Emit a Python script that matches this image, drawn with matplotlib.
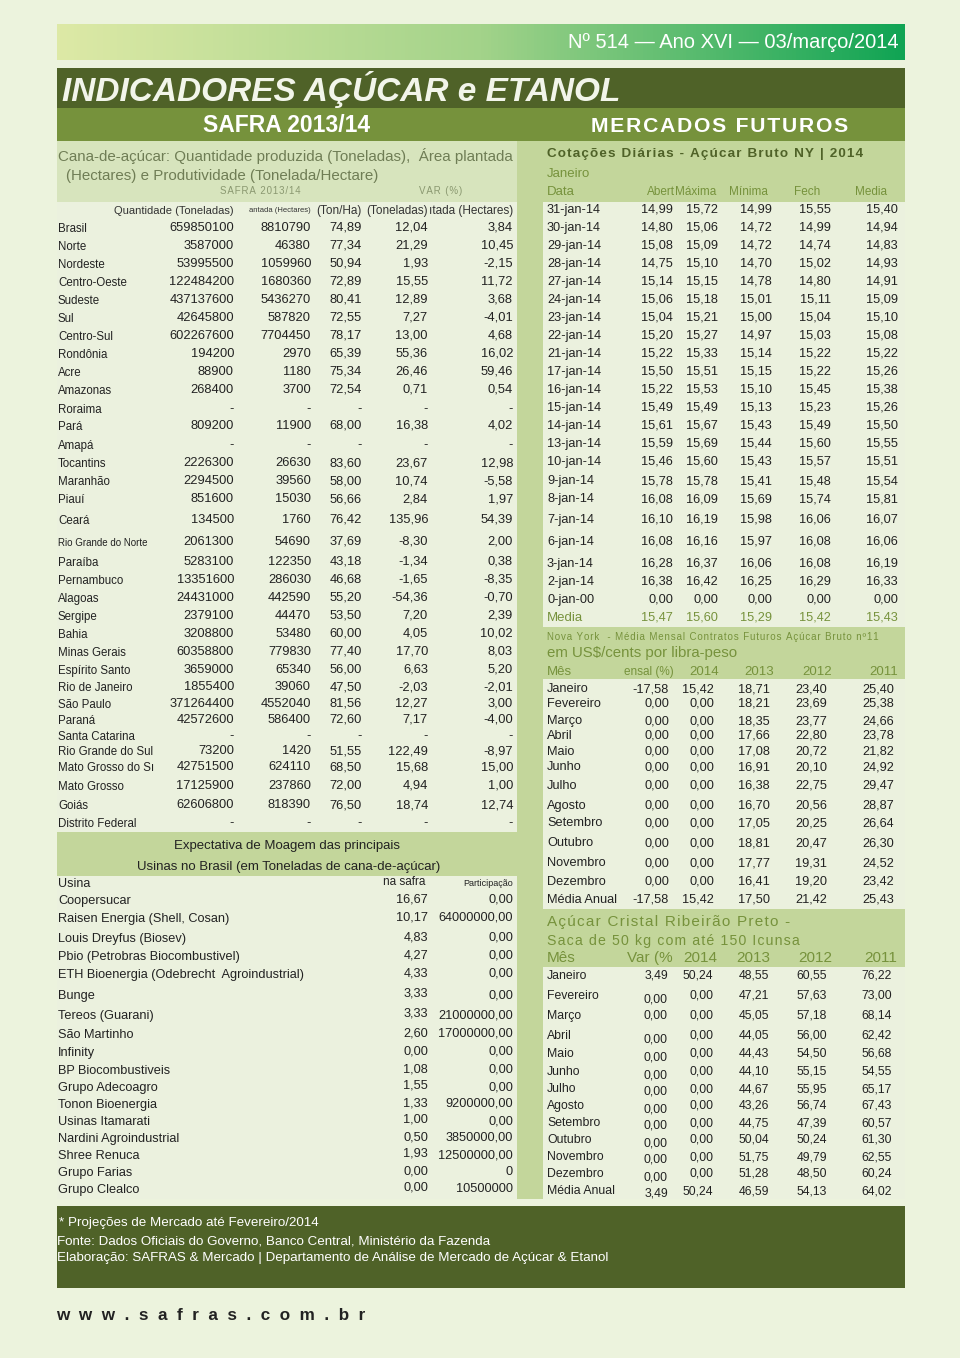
import numpy as np
import matplotlib
matplotlib.use("Agg")
from matplotlib import pyplot as plt
from matplotlib.patches import Rectangle
from matplotlib.colors import LinearSegmentedColormap

plt.rcParams['font.family'] = ['Liberation Sans', 'DejaVu Sans']

# ---------------- data ----------------
regions = ["Brasil", "Norte", "Nordeste", "Centro-Oeste", "Sudeste", "Sul", "Centro-Sul",
           "Rondônia", "Acre", "Amazonas", "Roraima", "Pará", "Amapá", "Tocantins",
           "Maranhão", "Piauí", "Ceará", "Rio Grande do Norte", "Paraíba", "Pernambuco",
           "Alagoas", "Sergipe", "Bahia", "Minas Gerais", "Espírito Santo", "Rio de Janeiro",
           "São Paulo", "Paraná", "Santa Catarina", "Rio Grande do Sul", "Mato Grosso do Sı",
           "Mato Grosso", "Goiás", "Distrito Federal"]
qtd_ton = [659850100, 3587000, 53995500, 122484200, 437137600, 42645800, 602267600,
           194200, 88900, 268400, None, 809200, None, 2226300, 2294500, 851600, 134500,
           2061300, 5283100, 13351600, 24431000, 2379100, 3208800, 60358800, 3659000,
           1855400, 371264400, 42572600, None, 73200, 42751500, 17125900, 62606800, None]
area_ha = [8810790, 46380, 1059960, 1680360, 5436270, 587820, 7704450, 2970, 1180, 3700,
           None, 11900, None, 26630, 39560, 15030, 1760, 54690, 122350, 286030, 442590,
           44470, 53480, 779830, 65340, 39060, 4552040, 586400, None, 1420, 624110, 237860,
           818390, None]
prod_ton_ha = [74.89, 77.34, 50.94, 72.89, 80.41, 72.55, 78.17, 65.39, 75.34, 72.54, None,
               68.00, None, 83.60, 58.00, 56.66, 76.42, 37.69, 43.18, 46.68, 55.20, 53.50,
               60.00, 77.40, 56.00, 47.50, 81.56, 72.60, None, 51.55, 68.50, 72.00, 76.50, None]
var_qtd = [12.04, 21.29, 1.93, 15.55, 12.89, 7.27, 13.00, 55.36, 26.46, 0.71, None, 16.38,
           None, 23.67, 10.74, 2.84, 135.96, -8.30, -1.34, -1.65, -54.36, 7.20, 4.05, 17.70,
           6.63, -2.03, 12.27, 7.17, None, 122.49, 15.68, 4.94, 18.74, None]
var_area = [3.84, 10.45, -2.15, 11.72, 3.68, -4.01, 4.68, 16.02, 59.46, 0.54, None, 4.02,
            None, 12.98, -5.58, 1.97, 54.39, 2.00, 0.38, -8.35, -0.70, 2.39, 10.02, 8.03,
            5.20, -2.01, 3.00, -4.00, None, -8.97, 15.00, 1.00, 12.74, None]

usinas = ["Coopersucar", "Raisen Energia (Shell, Cosan)", "Louis Dreyfus (Biosev)",
          "Pbio (Petrobras Biocombustivel)", "ETH Bioenergia (Odebrecht  Agroindustrial)",
          "Bunge", "Tereos (Guarani)", "São Martinho", "Infinity", "BP Biocombustiveis",
          "Grupo Adecoagro", "Tonon Bioenergia", "Usinas Itamarati", "Nardini Agroindustrial",
          "Shree Renuca", "Grupo Farias", "Grupo Clealco"]
na_safra = [16.67, 10.17, 4.83, 4.27, 4.33, 3.33, 3.33, 2.60, 0.00, 1.08, 1.55, 1.33, 1.00,
            0.50, 1.93, 0.00, 0.00]
participacao = ["0,00", "64000000,00", "0,00", "0,00", "0,00", "0,00", "21000000,00",
                "17000000,00", "0,00", "0,00", "0,00", "9200000,00", "0,00", "3850000,00",
                "12500000,00", "0", "10500000"]

datas = ["31-jan-14", "30-jan-14", "29-jan-14", "28-jan-14", "27-jan-14", "24-jan-14",
         "23-jan-14", "22-jan-14", "21-jan-14", "17-jan-14", "16-jan-14", "15-jan-14",
         "14-jan-14", "13-jan-14", "10-jan-14", "9-jan-14", "8-jan-14", "7-jan-14",
         "6-jan-14", "3-jan-14", "2-jan-14", "0-jan-00"]
abert = [14.99, 14.80, 15.08, 14.75, 15.14, 15.06, 15.04, 15.20, 15.22, 15.50, 15.22, 15.49,
         15.61, 15.59, 15.46, 15.78, 16.08, 16.10, 16.08, 16.28, 16.38, 0.00]
maxima = [15.72, 15.06, 15.09, 15.10, 15.15, 15.18, 15.21, 15.27, 15.33, 15.51, 15.53, 15.49,
          15.67, 15.69, 15.60, 15.78, 16.09, 16.19, 16.16, 16.37, 16.42, 0.00]
minima = [14.99, 14.72, 14.72, 14.70, 14.78, 15.01, 15.00, 14.97, 15.14, 15.15, 15.10, 15.13,
          15.43, 15.44, 15.43, 15.41, 15.69, 15.98, 15.97, 16.06, 16.25, 0.00]
fech = [15.55, 14.99, 14.74, 15.02, 14.80, 15.11, 15.04, 15.03, 15.22, 15.22, 15.45, 15.23,
        15.49, 15.60, 15.57, 15.48, 15.74, 16.06, 16.08, 16.08, 16.29, 0.00]
media = [15.40, 14.94, 14.83, 14.93, 14.91, 15.09, 15.10, 15.08, 15.22, 15.26, 15.38, 15.26,
         15.50, 15.55, 15.51, 15.54, 15.81, 16.07, 16.06, 16.19, 16.33, 0.00]
media_jan = [15.47, 15.60, 15.29, 15.42, 15.43]

meses = ["Janeiro", "Fevereiro", "Março", "Abril", "Maio", "Junho", "Julho", "Agosto",
         "Setembro", "Outubro", "Novembro", "Dezembro", "Média Anual"]
ny_var = [-17.58, 0, 0, 0, 0, 0, 0, 0, 0, 0, 0, 0, -17.58]
ny_2014 = [15.42, 0, 0, 0, 0, 0, 0, 0, 0, 0, 0, 0, 15.42]
ny_2013 = [18.71, 18.21, 18.35, 17.66, 17.08, 16.91, 16.38, 16.70, 17.05, 18.81, 17.77, 16.41, 17.50]
ny_2012 = [23.40, 23.69, 23.77, 22.80, 20.72, 20.10, 22.75, 20.56, 20.25, 20.47, 19.31, 19.20, 21.42]
ny_2011 = [25.40, 25.38, 24.66, 23.78, 21.82, 24.92, 29.47, 28.87, 26.64, 26.30, 24.52, 23.42, 25.43]

rp_var = [3.49, 0, 0, 0, 0, 0, 0, 0, 0, 0, 0, 0, 3.49]
rp_2014 = [50.24, 0, 0, 0, 0, 0, 0, 0, 0, 0, 0, 0, 50.24]
rp_2013 = [48.55, 47.21, 45.05, 44.05, 44.43, 44.10, 44.67, 43.26, 44.75, 50.04, 51.75, 51.28, 46.59]
rp_2012 = [60.55, 57.63, 57.18, 56.00, 54.50, 55.15, 55.95, 56.74, 47.39, 50.24, 49.79, 48.50, 54.13]
rp_2011 = [76.22, 73.00, 68.14, 62.42, 56.68, 54.55, 65.17, 67.43, 60.57, 61.30, 62.55, 60.24, 64.02]

# ---------------- layout (pixels, y from top) ----------------
y_regions = [228, 246, 264, 282, 300, 318, 336, 354, 372, 390, 409, 426, 445, 463, 481, 499,
             520, 542, 562, 580, 598, 616, 634, 652, 670, 687, 704, 720, 736, 751, 767, 786,
             805, 823]
y_usinas = [901, 919, 939, 957, 975, 996, 1016, 1035, 1053, 1071, 1088, 1105, 1122, 1139,
            1156, 1173, 1190]
y_datas = [210, 228, 246, 264, 282, 300, 318, 336, 354, 372, 390, 408, 426, 444, 462, 481,
           499, 520, 542, 564, 582, 600]
y_ny = [689, 704, 721, 736, 752, 767, 786, 806, 823, 843, 863, 882, 900]
y_rp = [976, 996, 1016, 1036, 1054, 1072, 1089, 1106, 1123, 1140, 1157, 1174, 1191]

BG = '#ECF3DD'
OLIVE_D = '#4F6228'
OLIVE_M = '#76923C'
GREEN_L = '#C3D69B'
GREEN_LL = '#D7E4BD'
BODY = '#EBF1DE'
TXT = '#222222'


def br(v, d=2):
    if v is None:
        return "-"
    return f"{v:.{d}f}".replace('.', ',')


def spaced(s):
    # rough letter spacing with hair spaces
    return "\u200a".join(s)


fig = plt.figure(figsize=(9.6, 13.58), dpi=100, facecolor=BG)
ax = fig.add_axes([0, 0, 1, 1])
ax.set_xlim(0, 960)
ax.set_ylim(1358, 0)
ax.axis('off')


def box(x0, y0, x1, y1, c):
    ax.add_patch(Rectangle((x0, y0), x1 - x0, y1 - y0, facecolor=c, edgecolor='none'))


def txt(x, y, s, ha='left', size=9, color=TXT, **kw):
    ax.text(x, y, s, ha=ha, va='center', fontsize=size, color=color, **kw)


# gradient banner
cmap = LinearSegmentedColormap.from_list('ban', ['#DDE9A6', '#A3D38A', '#10A454'])
ax.imshow(np.linspace(0, 1, 256)[None, :], cmap=cmap, aspect='auto',
          extent=[57, 905, 60, 24], zorder=1)
txt(899, 42, "Nº 514 — Ano XVI — 03/março/2014", ha='right', size=14.5, color='white', zorder=2)

# title bands
box(57, 68, 905, 108, OLIVE_D)
txt(62, 89, "INDICADORES AÇÚCAR e ETANOL", size=24, color='#F2F5EA',
    fontweight='bold', fontstyle='italic')
box(57, 108, 905, 141, OLIVE_M)
txt(287, 126, "SAFRA 2013/14", ha='center', size=16.5, color='white', fontweight='bold')
txt(720, 126, spaced("MERCADOS FUTUROS"), ha='center', size=15.2, color='white',
    fontweight='bold')

# section backgrounds
box(517, 141, 543, 1199, GREEN_L)
box(57, 141, 517, 202, GREEN_LL)
box(57, 202, 517, 832, BODY)
box(57, 832, 517, 876, GREEN_L)
box(57, 876, 517, 1199, BODY)
box(543, 141, 905, 202, GREEN_L)
box(543, 202, 905, 627, BODY)
box(543, 627, 905, 679, GREEN_L)
box(543, 679, 905, 909, BODY)
box(543, 909, 905, 967, GREEN_L)
box(543, 967, 905, 1199, BODY)
box(57, 1206, 905, 1288, OLIVE_D)

# ---- left: safra table ----
HEAD_C = '#6F7D55'
txt(58, 156, "Cana-de-açúcar: Quantidade produzida (Toneladas),  Área plantada",
    size=10.9, color=HEAD_C)
txt(66, 176, "(Hectares) e Produtividade (Tonelada/Hectare)", size=10.9, color=HEAD_C)
txt(260, 191, spaced("SAFRA 2013/14"), ha='center', size=7, color='#8A9870')
txt(441, 191, spaced("VAR (%)"), ha='center', size=7, color='#8A9870')

col_r = [234, 311, 362, 428, 513]
txt(234, 211, "Quantidade (Toneladas)", ha='right', size=8, color='#333333')
txt(311, 211, "antada (Hectares)", ha='right', size=5.5, color='#333333')
txt(362, 211, "(Ton/Ha)", ha='right', size=8.5, color='#333333')
txt(428, 211, "(Toneladas)", ha='right', size=8.5, color='#333333')
txt(513, 211, "ıtada (Hectares)", ha='right', size=8.5, color='#333333')

for i, name in enumerate(regions):
    y = y_regions[i]
    sz = 7 if name == "Rio Grande do Norte" else 8.3
    txt(58, y + 1, name, size=sz)
    vals = [br(qtd_ton[i], 0), br(area_ha[i], 0), br(prod_ton_ha[i]),
            br(var_qtd[i]), br(var_area[i])]
    for xr, s in zip(col_r, vals):
        txt(xr, y, s, ha='right', size=9.3)

# ---- left: moagem ----
txt(287, 846, "Expectativa de Moagem das principais", ha='center', size=9.5)
txt(289, 867, "Usinas no Brasil (em Toneladas de cana-de-açúcar)", ha='center', size=9.5)
txt(58, 884, "Usina", size=9)
txt(425, 882, "na safra", ha='right', size=8.5)
txt(513, 883, "Participação", ha='right', size=6.5)
for i, name in enumerate(usinas):
    y = y_usinas[i]
    txt(58, y, name, size=9.2)
    txt(428, y - 2, br(na_safra[i]), ha='right', size=9.2)
    txt(513, y - 1, participacao[i], ha='right', size=9.2)

# ---- right: cotacoes diarias ----
txt(547, 154, spaced("Cotações Diárias - Açúcar Bruto NY | 2014"), size=9.7, color=OLIVE_D,
    fontweight='bold')
txt(547, 174, "Janeiro", size=9.5, color=OLIVE_M)
txt(547, 192, "Data", size=9.5, color=OLIVE_M)
cot_r = [673, 718, 772, 831, 898]
cot_hr = [675, 716, 768, 820, 887]
for xr, s in zip(cot_hr, ["Abert", "Máxima", "Mínima", "Fech", "Media"]):
    txt(xr, 192, s, ha='right', size=8.5, color=OLIVE_M)
cols = [abert, maxima, minima, fech, media]
for i, d in enumerate(datas):
    y = y_datas[i]
    txt(547, y, d, size=9.2)
    for xr, col in zip(cot_r, cols):
        txt(xr, y, br(col[i]), ha='right', size=9.2)
txt(547, 618, "Media", size=9.5, color=OLIVE_M)
for xr, v in zip(cot_r, media_jan):
    txt(xr, 618, br(v), ha='right', size=9.2, color=OLIVE_M)

# ---- right: NY monthly ----
txt(547, 637, spaced("Nova York  - Média Mensal Contratos Futuros Açúcar Bruto nº11"), size=7,
    color=OLIVE_M)
txt(547, 653, "em US$/cents por libra-peso", size=10.8, color=OLIVE_M)
txt(547, 672, "Mês", size=9.5, color=OLIVE_M)
ny_hr = [674, 719, 774, 832, 898]
for xr, s in zip(ny_hr, ["ensal (%)", "2014", "2013", "2012", "2011"]):
    txt(xr, 672, s, ha='right', size=9.5 if s != "ensal (%)" else 8.5, color=OLIVE_M)
ny_r = [669, 714, 770, 827, 894]
ny_cols = [ny_var, ny_2014, ny_2013, ny_2012, ny_2011]
for i, m in enumerate(meses):
    y = y_ny[i]
    txt(547, y, m, size=9.2)
    for xr, col in zip(ny_r, ny_cols):
        txt(xr, y, br(col[i]), ha='right', size=9.2)

# ---- right: Ribeirao Preto ----
txt(547, 922, spaced("Açúcar Cristal Ribeirão Preto -"), size=11, color=OLIVE_M)
txt(547, 941, spaced("Saca de 50 kg com até 150 Icunsa"), size=10.2, color=OLIVE_M)
txt(547, 958, "Mês", size=11, color=OLIVE_M)
rp_hr = [673, 717, 770, 832, 897]
for xr, s in zip(rp_hr, ["Var (%", "2014", "2013", "2012", "2011"]):
    txt(xr, 958, s, ha='right', size=11, color=OLIVE_M)
rp_r = [668, 713, 769, 827, 892]
rp_cols = [rp_var, rp_2014, rp_2013, rp_2012, rp_2011]
for i, m in enumerate(meses):
    y = y_rp[i]
    txt(547, y, m, size=8.8)
    for j, (xr, col) in enumerate(zip(rp_r, rp_cols)):
        dy = 3 if (j == 0 and m not in ("Janeiro", "Março")) else 0
        txt(xr, y + dy, br(col[i]), ha='right', size=8.8)

# ---- footer ----
txt(59, 1223, "* Projeções de Mercado até Fevereiro/2014", size=9.6, color='white')
txt(57, 1241, "Fonte: Dados Oficiais do Governo, Banco Central, Ministério da Fazenda",
    size=9.6, color='white')
txt(57, 1258, "Elaboração: SAFRAS & Mercado | Departamento de Análise de Mercado de Açúcar & Etanol",
    size=9.6, color='white')
txt(56, 1315, "  ".join("www.safras.com.br"), size=12.3, color='#222222', fontweight='bold')

fig.savefig("out.png", dpi=100, facecolor=BG)
